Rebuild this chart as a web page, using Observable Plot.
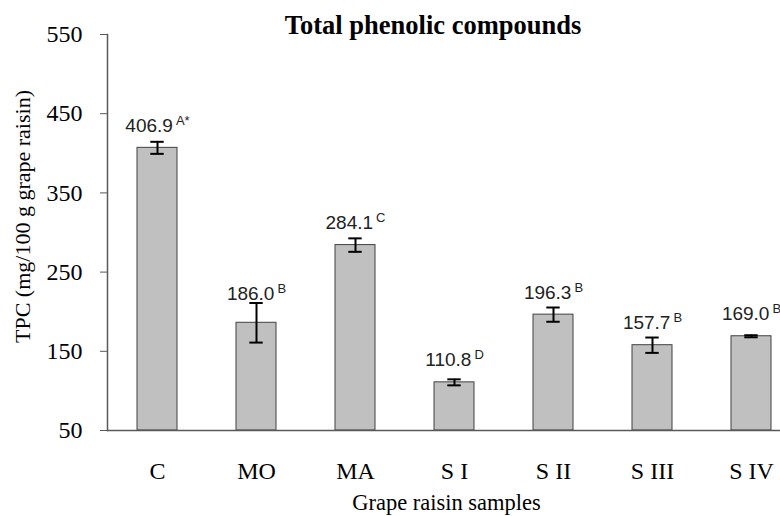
<!DOCTYPE html>
<html>
<head>
<meta charset="utf-8">
<script src="https://cdn.jsdelivr.net/npm/d3@7"></script>
<script src="https://cdn.jsdelivr.net/npm/@observablehq/plot@0.6"></script>
<style>
  body { margin: 0; background: #fff; }
  #chart { width: 780px; height: 516px; overflow: hidden; }
</style>
</head>
<body>
<div id="chart"></div>
<script>
const samples = ["C", "MO", "MA", "S I", "S II", "S III", "S IV"];
const tpc = [406.9, 186.0, 284.1, 110.8, 196.3, 157.7, 169.0];
const sd = [7.6, 25.0, 8.5, 3.8, 9.0, 9.7, 1.3];
const letters = ["A*", "B", "C", "D", "B", "B", "B"];
const yTicks = [50, 150, 250, 350, 450, 550];
const title = "Total phenolic compounds";
const xLabel = "Grape raisin samples";
const yLabel = "TPC (mg/100 g grape raisin)";

const data = samples.map((s, i) => ({
  sample: s,
  value: tpc[i],
  err: sd[i],
  letter: letters[i],
  labelAt: Math.max(tpc[i], tpc[i] + sd[i] - 16)
}));

const serif = "'Liberation Serif','Times New Roman',serif";
const sans = "'Liberation Sans',Arial,sans-serif";
const axisColor = "#595959";

const plot = Plot.plot({
  width: 780,
  height: 516,
  marginLeft: 107,
  marginRight: 0,
  marginTop: 34,
  marginBottom: 86,
  style: { fontFamily: serif, background: "#fff", color: "#000", overflow: "hidden" },
  x: { domain: samples, range: [107, 800], paddingInner: 0.6, paddingOuter: 0.3 },
  y: { domain: [50, 550] },
  marks: [
    Plot.barY(data, { x: "sample", y1: 50, y2: "value", fill: "#c0c0c0", stroke: "#404040", strokeWidth: 1 }),
    Plot.ruleX(data, { x: "sample", y1: d => d.value - d.err, y2: d => d.value + d.err, stroke: "#000", strokeWidth: 2 }),
    Plot.tickY(data, { x: "sample", y: d => d.value + d.err, insetLeft: 13.3, insetRight: 13.3, stroke: "#000", strokeWidth: 2 }),
    Plot.tickY(data, { x: "sample", y: d => d.value - d.err, insetLeft: 13.3, insetRight: 13.3, stroke: "#000", strokeWidth: 2 }),
    Plot.ruleY([50], { stroke: axisColor, strokeWidth: 1.5 }),
    Plot.frame({ anchor: "left", stroke: axisColor, strokeWidth: 1.5 }),
    Plot.axisY({ ticks: yTicks, tickSize: 7, tickPadding: 18, fontSize: 24, label: null, stroke: axisColor, fill: "#000" }),
    Plot.axisX({ tickSize: 0, tickPadding: 31, fontSize: 24, label: null, fill: "#000" }),
    Plot.text(data, { x: "sample", y: "labelAt", text: d => d.value.toFixed(1), dy: -22, fontFamily: sans, fontSize: 19, fill: "#222" }),
    Plot.text([title], { text: d => d, frameAnchor: "top", textAnchor: "middle", lineAnchor: "middle", dx: -11, dy: -9, fontWeight: "bold", fontSize: 26.5, fontFamily: serif, fill: "#000" }),
    Plot.text([yLabel], { text: d => d, frameAnchor: "left", textAnchor: "middle", lineAnchor: "middle", rotate: -90, dx: -85, dy: -16, fontSize: 22, fontFamily: serif, fill: "#000" }),
    Plot.text([xLabel], { text: d => d, frameAnchor: "bottom", textAnchor: "middle", lineAnchor: "middle", dx: 2.5, dy: 72, fontSize: 22.5, fontFamily: serif, fill: "#000" })
  ]
});

// Superscript significance letters appended to the value labels
const svgns = "http://www.w3.org/2000/svg";
const labelGroup = plot.querySelectorAll('g[aria-label="text"]')[0];
if (labelGroup) {
  labelGroup.querySelectorAll("text").forEach((t, i) => {
    const ts = document.createElementNS(svgns, "tspan");
    ts.setAttribute("font-size", "13");
    ts.setAttribute("dy", "-7");
    ts.setAttribute("dx", "3");
    ts.textContent = data[i].letter;
    t.appendChild(ts);
  });
}

document.getElementById("chart").appendChild(plot);
</script>
</body>
</html>
